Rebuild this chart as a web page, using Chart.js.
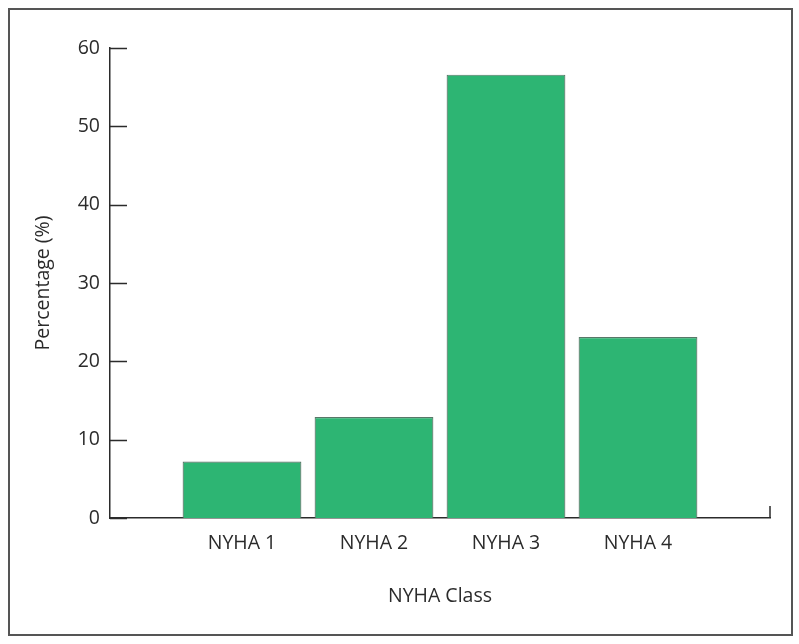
<!DOCTYPE html>
<html>
<head>
<meta charset="utf-8">
<script src="https://cdn.jsdelivr.net/npm/chart.js@4"></script>
<style>
  html, body { margin:0; padding:0; background:#fff; }
  #wrap { position:relative; width:799px; height:644px; }
  #frame { position:absolute; left:8px; top:8px; width:781px; height:624px; border:2px solid #555; pointer-events:none; }
  canvas { position:absolute; left:0; top:0; }
</style>
</head>
<body>
<div id="wrap">
  <canvas id="c" width="799" height="644"></canvas>
  <div id="frame"></div>
</div>
<script>
// categories — empty slots at both ends leave the gaps beside the axis
const CLASSES = ['', 'NYHA 1', 'NYHA 2', 'NYHA 3', 'NYHA 4', ''];
const PERCENT = [null, 7.2, 12.9, 56.6, 23.1, null];
const Y_TICKS = [0, 10, 20, 30, 40, 50, 60];

const FONT = '"Open Sans", "Noto Sans", sans-serif';
const INK = '#2b2b2b';
const FS = 19.5;

// ticks drawn inward, as in the figure
const inwardTicks = {
  id: 'inwardTicks',
  afterDraw(chart) {
    const { ctx, scales:{ x, y } } = chart;
    ctx.save();
    ctx.strokeStyle = INK;
    ctx.lineWidth = 1.5;
    ctx.beginPath();
    Y_TICKS.forEach(v => {
      const py = Math.round(y.getPixelForValue(v)) + 0.5;
      ctx.moveTo(x.left, py);
      ctx.lineTo(x.left + 17, py);
    });
    const px = x.getPixelForValue(CLASSES.length - 1);
    ctx.moveTo(px, y.bottom);
    ctx.lineTo(px, y.bottom - 12);
    ctx.stroke();
    ctx.restore();
  }
};

new Chart(document.getElementById('c'), {
  type: 'bar',
  data: {
    labels: CLASSES,
    datasets: [{
      data: PERCENT,
      backgroundColor: '#2db573',
      borderColor: '#587868',
      borderWidth: 1.2,
      categoryPercentage: 1,
      barPercentage: 0.9,
    }],
  },
  options: {
    responsive:false, animation:false,
    layout:{ autoPadding:false, padding:{ left:32, right:29, top:48, bottom:32 } },
    plugins:{ legend:{ display:false }, tooltip:{ enabled:false } },
    scales:{
      x:{
        offset:false,
        grid:{ display:false, drawTicks:false },
        border:{ display:true, color:INK, width:1.5 },
        ticks:{ color:INK, font:{ family:FONT, size:FS }, padding:14, maxRotation:0, autoSkip:false },
        title:{ display:true, text:'NYHA Class', color:INK, font:{ family:FONT, size:FS }, padding:{ top:0 } },
        afterFit: s => { s.height = 94; },
      },
      y:{
        min:0, max:60,
        afterBuildTicks: s => { s.ticks = Y_TICKS.map(v => ({ value:v })); },
        grid:{ display:false, drawTicks:false },
        border:{ display:true, color:INK, width:1.5 },
        ticks:{ color:INK, font:{ family:FONT, size:FS }, padding:10 },
        title:{ display:true, text:'Percentage (%)', color:INK, font:{ family:FONT, size:FS }, padding:{ top:0, bottom:0 } },
        afterFit: s => { s.width = 78; },
      },
    },
  },
  plugins:[inwardTicks],
});
</script>
</body>
</html>
